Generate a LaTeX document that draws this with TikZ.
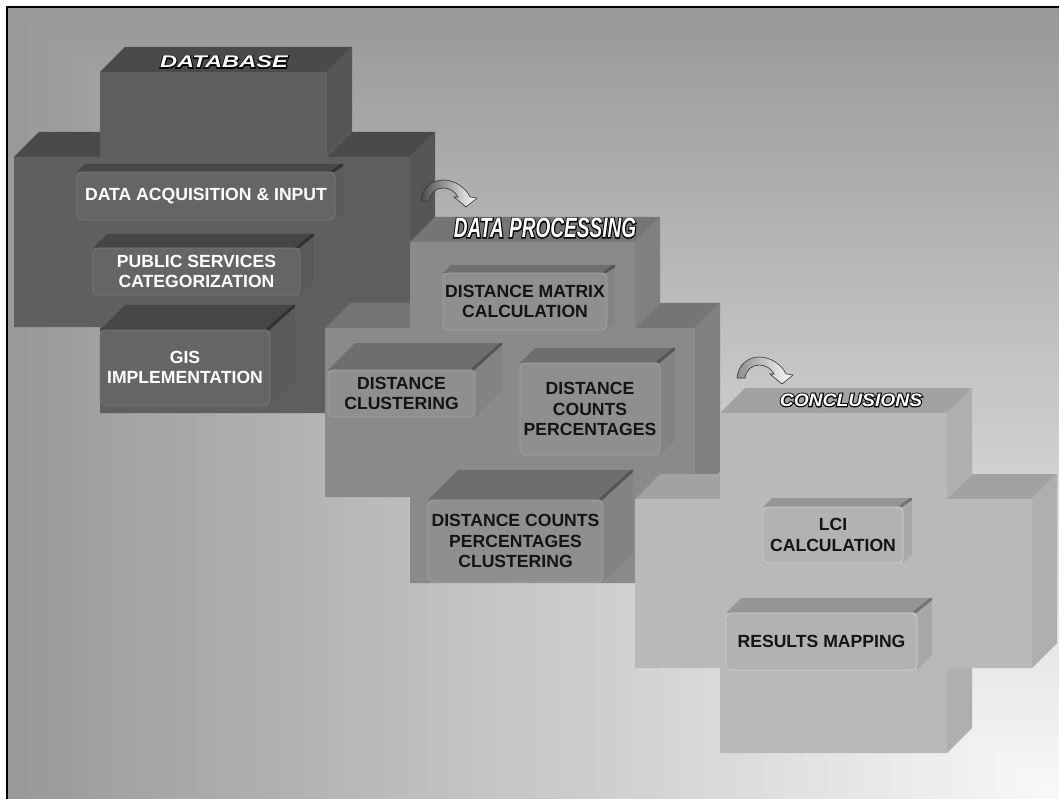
\documentclass[tikz,border=0pt]{standalone}
\usepackage{fontspec}
\setmainfont{Liberation Sans}
\newfontfamily\dbfont{Liberation Sans Bold Italic}[FakeStretch=1.39]
\newfontfamily\dbfontline{Liberation Sans Bold Italic}[FakeStretch=1.39,FakeBold=12]
\newfontfamily\dpfont{Liberation Sans Bold Italic}[FakeStretch=0.68]
\newfontfamily\dpfontline{Liberation Sans Bold Italic}[FakeStretch=0.68,FakeBold=7]
\newfontfamily\cofont{Liberation Sans Bold Italic}[FakeStretch=1.07]
\newfontfamily\cofontline{Liberation Sans Bold Italic}[FakeStretch=1.07,FakeBold=12]

\definecolor{g1front}{RGB}{95,95,95}
\definecolor{g1top}{RGB}{74,74,74}
\definecolor{g1side}{RGB}{86,86,86}
\definecolor{g1box}{RGB}{101,101,101}
\definecolor{g1boxtop}{RGB}{70,70,70}
\definecolor{g1boxside}{RGB}{90,90,90}
\definecolor{g1edge}{RGB}{122,122,122}
\definecolor{g1bevel}{RGB}{50,50,50}
\definecolor{g1ink}{RGB}{255,255,255}

\definecolor{g2front}{RGB}{138,138,138}
\definecolor{g2top}{RGB}{117,117,117}
\definecolor{g2side}{RGB}{128,128,128}
\definecolor{g2box}{RGB}{143,143,143}
\definecolor{g2boxtop}{RGB}{110,110,110}
\definecolor{g2boxside}{RGB}{131,131,131}
\definecolor{g2edge}{RGB}{162,162,162}
\definecolor{g2bevel}{RGB}{85,85,85}
\definecolor{g2ink}{RGB}{20,20,20}

\definecolor{g3front}{RGB}{185,185,185}
\definecolor{g3top}{RGB}{162,162,162}
\definecolor{g3side}{RGB}{175,175,175}
\definecolor{g3box}{RGB}{178,178,178}
\definecolor{g3boxtop}{RGB}{150,150,150}
\definecolor{g3boxside}{RGB}{168,168,168}
\definecolor{g3edge}{RGB}{204,204,204}
\definecolor{g3bevel}{RGB}{115,115,115}
\definecolor{g3ink}{RGB}{20,20,20}

% cross shaped block: vertical bar x #1..#2, y #3..#4; horizontal bar x #5..#6, y #7..#8
\newcommand{\crossblock}[9]{%
  \fill[#9top] (#1,#3) -- (#2,#3) -- (#2+25,#3-25) -- (#1+25,#3-25) -- cycle;
  \fill[#9top] (#5,#7) -- (#1,#7) -- (#1+25,#7-25) -- (#5+25,#7-25) -- cycle;
  \fill[#9top] (#2,#7) -- (#6,#7) -- (#6+25,#7-25) -- (#2+25,#7-25) -- cycle;
  \fill[#9side] (#2,#3) -- (#2+25,#3-25) -- (#2+25,#7-25) -- (#2,#7) -- cycle;
  \fill[#9side] (#6,#7) -- (#6+25,#7-25) -- (#6+25,#8-25) -- (#6,#8) -- cycle;
  \fill[#9side] (#2,#8) -- (#2+25,#8) -- (#2+25,#4-25) -- (#2,#4) -- cycle;
  \fill[#9front] (#1,#3) -- (#2,#3) -- (#2,#7) -- (#6,#7) -- (#6,#8) -- (#2,#8)
    -- (#2,#4) -- (#1,#4) -- (#1,#8) -- (#5,#8) -- (#5,#7) -- (#1,#7) -- cycle;
}
% small box: name, x0, y0, x1, y1, depth, group, text
\newcommand{\tierbox}[8]{%
  \fill[#7boxtop] (#2,#3) -- (#2+#6,#3-#6) -- (#4+#6,#3-#6) -- (#4,#3) -- cycle;
  \fill[#7boxside] (#4,#3) -- (#4+#6,#3-#6) -- (#4+#6,#5-#6) -- (#4,#5) -- cycle;
  \draw[#7bevel, line width=3pt, line cap=round] (#4-2,#3-1) -- (#4+#6-1,#3-#6+1);
  \node[tierface, fill=#7box, draw=#7edge, text=#7ink,
    minimum width=#4pt-#2pt, minimum height=#5pt-#3pt]
    (#1) at ({(#2+#4)/2},{(#3+#5)/2}) {#8};
}
% bent arrow with its lower left end at #1,#2
\newcommand{\turnarrow}[3]{%
  \shade[left color=#3, middle color=white!80!#3, right color=white,
    draw=black!80, line width=0.6pt, shift={(#1,#2)}]
    (0,0) .. controls (1,-13) and (11,-21) .. (22,-21)
    .. controls (34,-21) and (45,-13) .. (49,-4) -- (56,-3) -- (45,6)
    -- (33,-4) -- (37,-4) .. controls (34,-10) and (28,-13) .. (22,-13)
    .. controls (15,-13) and (9,-8) .. (8,0) -- cycle;
}

\begin{document}
\begin{tikzpicture}[x=1pt, y=-1pt,
    tierface/.style={rectangle, rounded corners=6pt, line width=0.8pt, inner sep=0pt,
      align=center, font=\bfseries\fontsize{17.6}{20.5}\selectfont},
    titleline/.style={text=black, inner sep=0pt},
    titletext/.style={text=white, inner sep=0pt}
]
\useasboundingbox (0,0) rectangle (1059,799);

% background
\fill[white] (0,0) rectangle (1059,799);
\foreach \i in {0,...,50}{
  \pgfmathsetmacro\f{1-\i/50}
  \pgfmathsetmacro\tone{2+38*\f}
  \fill[black!\tone] ({1059-1052*\f},{799-792*\f}) rectangle (1059,799);
}
\draw[line width=2pt] (7,799) -- (7,7) -- (1059,7);

% database
\crossblock{100}{327}{72}{413}{14}{410}{157}{327}{g1}
\tierbox{acq}{77}{172}{335}{220}{8}{g1}{DATA ACQUISITION \& INPUT}
\tierbox{pub}{93}{248}{300}{295}{14}{g1}{PUBLIC SERVICES\\CATEGORIZATION}
\tierbox{gis}{100}{330}{270}{405}{25}{g1}{GIS\\IMPLEMENTATION}
\node[titleline, font=\fontsize{17}{17}\selectfont] (dbline) at (224,62) {\dbfontline DATABASE};
\node[titletext, font=\fontsize{17}{17}\selectfont] (dbtitle) at (dbline) {\dbfont DATABASE};

\turnarrow{421}{201}{black!70}

% data processing
\crossblock{410}{635}{242}{583}{325}{695}{328}{497}{g2}
\tierbox{dmc}{443}{273}{607}{330}{8}{g2}{DISTANCE MATRIX\\CALCULATION}
\tierbox{dclu}{328}{370}{475}{417}{27}{g2}{DISTANCE\\CLUSTERING}
\tierbox{dcp}{520}{363}{660}{455}{15}{g2}{DISTANCE\\COUNTS\\PERCENTAGES}
\tierbox{dcpc}{428}{500}{603}{582}{30}{g2}{DISTANCE COUNTS\\PERCENTAGES\\CLUSTERING}
\node[titleline, font=\fontsize{28}{28}\selectfont] (dpline) at (545,228) {\dpfontline DATA PROCESSING};
\node[titletext, font=\fontsize{28}{28}\selectfont] (dptitle) at (dpline) {\dpfont DATA PROCESSING};

\turnarrow{737}{378}{black!45}

% conclusions
\crossblock{720}{947}{413}{753}{635}{1032}{499}{668}{g3}
\tierbox{lci}{763}{507}{903}{563}{9}{g3}{LCI\\CALCULATION}
\tierbox{res}{726}{613}{917}{670}{15}{g3}{RESULTS MAPPING}
\node[titleline, font=\fontsize{18}{18}\selectfont] (coline) at (851,400) {\cofontline CONCLUSIONS};
\node[titletext, font=\fontsize{18}{18}\selectfont] (cotitle) at (coline) {\cofont CONCLUSIONS};
\end{tikzpicture}
\end{document}
